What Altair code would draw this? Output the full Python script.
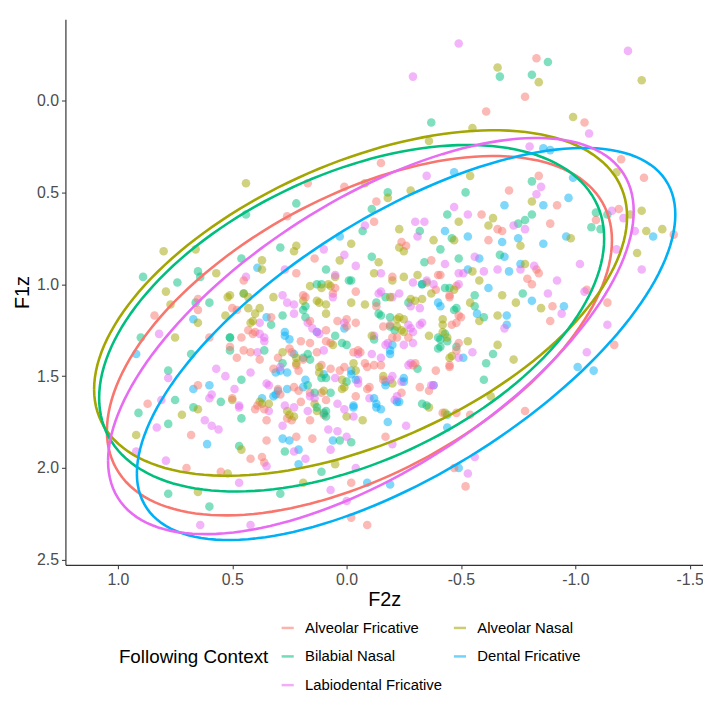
import altair as alt
import numpy as np
import pandas as pd

groups = ["Alveolar Fricative", "Alveolar Nasal", "Bilabial Nasal",
          "Dental Fricative", "Labiodental Fricative"]
colors = ["#F8766D", "#A3A500", "#00BF7D", "#00B0F6", "#E76BF3"]

# (F2z, F1z) points, per following context
alveolar_fricative = [
    (-0.61, 0.06), (-0.83, -0.23), (-0.78, -0.02), (-1.04, 0.12), (-1.20, 0.32), (-1.30, 0.42),
    (-0.84, 0.41), (-0.71, 0.49), (-0.92, 0.57), (-1.19, 0.59), (-1.09, 0.65), (-0.66, 0.70),
    (-0.68, 0.71), (-0.89, 0.67), (-1.43, 0.73), (-0.83, 0.92), (-0.84, 0.94), (-0.79, 0.97),
    (-0.81, 1.00), (-1.05, 1.03), (-0.90, 1.12), (-1.14, 1.10), (-0.89, 1.20), (-1.17, 1.33),
    (0.65, 1.08), (0.65, 1.14), (0.84, 1.17), (0.60, 1.29), (0.46, 1.29), (0.43, 1.25), (0.40, 1.26),
    (0.87, 1.65), (0.68, 1.82), (0.65, 1.55), (0.42, 1.95), (0.70, 2.00), (0.55, 2.02), (0.35, 1.85),
    (0.37, 1.94), (0.36, 1.97), (0.35, 1.74), (0.40, 1.68), (-0.36, 1.58), (-0.42, 1.70), (-0.54, 1.71),
    (-0.39, 1.47), (-0.45, 1.44), (-0.30, 1.43), (-0.47, 2.00), (-0.52, 2.10), (-0.09, 2.31),
    (-0.02, 2.27), (-0.02, 2.08), (-0.17, 1.83), (0.15, 1.84), (0.16, 1.74), (0.22, 1.83), (0.26, 1.73),
    (0.24, 1.74), (0.16, 1.59), (-0.04, 1.61), (-0.09, 1.57), (-0.24, 1.59), (-0.15, 1.44), (-0.09, 1.45),
    (-0.08, 1.43), (0.03, 1.47), (0.07, 1.46), (0.11, 1.44), (0.11, 1.59), (0.09, 1.63), (0.10, 1.71),
    (0.22, 1.44), (-0.78, 1.69), (-0.15, 0.34), (0.17, 0.45), (0.01, 0.47), (-0.13, 0.55), (0.26, 0.63),
    (-0.12, 0.66), (-0.59, 0.62), (-0.24, 0.77), (-0.26, 0.79), (-0.62, 0.76), (0.14, 0.86), (0.22, 0.94),
    (-0.37, 0.87), (-0.20, 0.96), (-0.41, 0.95), (-0.39, 1.03), (-0.48, 1.01), (-0.04, 1.04), (0.06, 1.05),
    (-0.13, 1.12), (0.18, 1.07), (-0.45, 1.07), (-0.49, 1.17), (-0.46, 1.22), (-0.16, 1.23), (0.04, 1.20),
    (0.00, 1.19), (-0.04, 1.21), (0.09, 1.25), (0.20, 1.31), (0.16, 1.32), (0.07, 1.32), (-0.49, 1.32),
    (0.13, 1.37), (0.30, 1.40), (-0.05, 1.36), (0.25, 1.35),
    (0.45, 0.98), (-0.40, 0.95), (0.19, 1.06), (0.05, 1.02), (-0.45, 1.06), (0.50, 1.13), (0.48, 1.14),
    (0.33, 1.18), (0.16, 1.20), (0.00, 1.23), (-0.19, 1.22), (-0.22, 1.29), (-0.48, 1.21), (-0.50, 1.18),
    (0.41, 1.27), (0.09, 1.31), (-0.03, 1.37), (-0.06, 1.37), (-0.20, 1.29), (-0.27, 1.29), (-0.29, 1.44),
    (-0.45, 1.45), (-0.48, 1.36), (0.48, 1.40), (0.51, 1.34), (0.45, 1.36), (0.42, 1.37), (0.38, 1.41),
    (0.24, 1.37), (0.32, 1.46), (0.21, 1.47), (0.19, 1.41), (0.01, 1.45), (-0.12, 1.44), (-0.10, 1.56),
    (-0.16, 1.52), (-0.48, 1.70), (-0.32, 1.56), (0.50, 1.62), (0.39, 1.66), (0.36, 1.68), (0.30, 1.57),
    (0.29, 1.60), (0.23, 1.56), (0.21, 1.58), (0.20, 1.64),
]
alveolar_nasal = [
    (-0.55, 0.15), (-0.36, 0.22), (-0.66, -0.18), (-0.84, -0.10), (-1.29, -0.11), (-0.99, 0.09),
    (-1.18, 0.39), (-0.81, 0.55), (-1.29, 0.60), (-1.24, 0.62), (-0.64, 0.64), (-1.31, 0.71),
    (-1.38, 0.70), (-0.76, 0.79), (-0.98, 0.75), (-1.27, 0.83), (-0.78, 0.89), (-0.68, 1.06),
    (-0.74, 1.10), (-0.85, 1.13), (-0.66, 1.17), (-0.66, 1.33), (-0.73, 1.41), (0.44, 0.45),
    (0.80, 0.82), (0.66, 0.81), (0.57, 0.94), (0.37, 0.87), (0.37, 0.92), (0.79, 1.04), (0.77, 1.11),
    (0.52, 1.07), (0.43, 1.07), (0.65, 1.21), (0.53, 1.17), (0.75, 1.29), (0.42, 1.21), (0.40, 1.16),
    (0.32, 1.07), (0.72, 1.71), (0.92, 1.82), (0.50, 1.63), (0.65, 1.68), (0.46, 1.90), (0.52, 2.03),
    (0.65, 2.13), (0.37, 1.65), (-0.07, 1.74), (-0.36, 1.67), (0.05, 1.98), (0.19, 2.08), (0.26, 1.69),
    (0.14, 1.65), (-0.20, 1.54), (-0.16, 1.50), (-0.03, 1.43), (-0.04, 1.47), (0.02, 1.52), (0.02, 1.57),
    (0.13, 1.69), (-0.46, 1.39), (-0.63, 1.61), (-0.08, 0.45), (-0.18, 0.53), (-0.28, 0.49), (-0.54, 0.41),
    (-0.49, 0.66), (-0.23, 0.70), (-0.02, 0.78), (0.22, 0.79), (0.23, 0.82), (-0.23, 0.80), (-0.25, 0.82),
    (-0.38, 0.76), (-0.47, 0.76), (-0.62, 0.68), (0.03, 0.87), (-0.14, 0.88), (-0.55, 0.93), (-0.58, 0.98),
    (-0.12, 0.94), (-0.20, 0.98), (-0.25, 0.96), (-0.31, 0.95), (-0.35, 0.99), (0.05, 0.96), (0.16, 1.01),
    (0.08, 1.00), (-0.08, 1.11), (-0.02, 1.10), (0.19, 1.09), (0.13, 1.09), (0.09, 1.11), (-0.37, 1.05),
    (-0.28, 1.08), (-0.33, 1.08), (-0.54, 1.10), (-0.42, 1.19), (-0.58, 1.20), (-0.22, 1.19), (-0.25, 1.19),
    (-0.24, 1.25), (-0.36, 1.28), (-0.42, 1.26), (-0.53, 1.31),
    (0.51, 1.06), (0.45, 1.05), (0.11, 1.02), (0.07, 1.01), (-0.19, 1.07), (-0.30, 1.09), (-0.47, 1.03),
    (0.43, 1.13), (0.41, 1.20), (0.38, 1.13), (0.12, 1.10), (0.09, 1.16), (-0.23, 1.18), (-0.22, 1.23),
    (-0.25, 1.26), (-0.44, 1.29), (-0.42, 1.22), (0.06, 1.33), (-0.11, 1.28), (-0.45, 1.40), (0.28, 1.37),
    (0.22, 1.40), (0.22, 1.43), (0.12, 1.45), (0.12, 1.48), (0.01, 1.56), (-0.43, 1.70), (0.38, 1.64),
    (0.34, 1.65), (0.25, 1.71), (0.23, 1.72), (0.10, 1.58), (0.00, 1.72),
]
bilabial_nasal = [
    (-0.37, 0.12), (-0.67, -0.13), (-0.88, -0.21), (-0.81, -0.14), (-0.81, 0.44), (-1.09, 0.61),
    (-1.14, 0.62), (-0.81, 0.62), (-0.78, 0.65), (-0.75, 0.67), (-1.07, 0.69), (-1.11, 0.70),
    (-0.67, 0.84), (-0.77, 1.05), (0.44, 0.62), (0.89, 0.96), (0.74, 0.99), (0.65, 0.93), (0.64, 0.96),
    (0.46, 0.86), (0.60, 1.10), (0.45, 1.05), (0.66, 1.10), (0.90, 1.29), (0.51, 1.29), (0.33, 1.22),
    (0.78, 1.47), (0.75, 1.63), (0.91, 1.70), (0.78, 1.76), (0.46, 1.52), (0.55, 1.64), (0.67, 1.67),
    (0.46, 1.73), (0.47, 1.88), (0.78, 2.14), (0.60, 2.21), (0.68, 1.38), (-0.33, 1.65), (-0.44, 1.71),
    (-0.60, 1.52), (-0.61, 1.43), (-0.31, 1.46), (0.11, 2.02), (0.29, 2.14), (-0.02, 1.86), (0.03, 1.85),
    (0.27, 1.91), (0.00, 1.53), (0.17, 1.55), (0.07, 1.59), (0.09, 1.69), (0.17, 1.38), (0.19, 1.40),
    (-0.64, 1.38), (-0.41, 1.34), (-0.18, 0.50), (-0.52, 0.50), (0.22, 0.56), (-0.11, 0.59), (-0.44, 0.62),
    (-0.32, 0.71), (-0.07, 0.71), (0.29, 0.80), (-0.41, 0.81), (-0.46, 0.75), (-0.11, 0.85), (0.09, 0.92),
    (-0.34, 0.88), (-0.49, 0.86), (-0.02, 0.98), (0.11, 1.00), (-0.45, 1.02), (-0.17, 1.07), (0.18, 1.12),
    (-0.56, 1.06), (-0.56, 1.12), (-0.60, 1.18), (-0.47, 1.14), (-0.15, 1.17), (-0.19, 1.23), (-0.21, 1.25),
    (0.05, 1.28), (0.28, 1.17), (-0.41, 1.30), (-0.44, 1.31), (-0.13, 1.10),
    (-0.01, 0.98), (-0.33, 1.00), (0.13, 1.00), (-0.27, 1.10), (-0.43, 1.02), (-0.48, 1.13), (0.19, 1.14),
    (0.18, 1.18), (-0.14, 1.16), (-0.19, 1.18), (-0.40, 1.29), (-0.43, 1.27), (0.02, 1.32), (0.00, 1.33),
    (-0.12, 1.30), (-0.40, 1.35), (-0.48, 1.34), (0.51, 1.29), (0.51, 1.36), (0.36, 1.36), (0.16, 1.41),
    (0.28, 1.43), (0.11, 1.51), (0.09, 1.51), (-0.35, 1.66), (0.13, 1.67), (0.10, 1.70), (0.09, 1.72),
    (0.14, 1.59),
]
dental_fricative = [
    (-0.86, 0.26), (-0.89, 0.27), (-0.99, 0.42), (-0.69, 0.57), (-0.86, 0.57), (-0.97, 0.53),
    (-1.34, 0.74), (-0.68, 0.77), (-0.75, 0.75), (-0.86, 0.78), (-0.96, 0.74), (-0.69, 0.85),
    (-0.71, 0.93), (-0.76, 0.89), (-0.81, 1.09), (-0.95, 1.12), (-0.70, 1.17), (-0.70, 1.22),
    (-1.01, 1.45), (-1.08, 1.47), (-0.51, 1.40), (0.39, 0.91), (0.67, 1.19), (0.35, 1.18), (0.67, 1.57),
    (0.60, 1.55), (0.61, 1.87), (0.31, 1.48), (0.37, 1.62), (0.32, 1.61), (0.92, 1.38), (0.26, 1.57),
    (0.30, 1.58), (-0.18, 1.75), (-0.38, 1.55), (-0.44, 1.78), (-0.49, 2.00), (-0.09, 2.08), (-0.19, 2.09),
    (0.21, 1.98), (0.06, 1.85), (0.25, 1.85), (0.21, 1.90), (-0.03, 1.67), (-0.13, 1.67), (-0.15, 1.68),
    (-0.23, 1.64), (-0.25, 1.53), (-0.17, 1.53), (-0.02, 1.47), (0.18, 1.52), (0.28, 1.84), (0.29, 1.47),
    (0.26, 1.48), (0.19, 1.56), (-0.19, 1.38), (-0.47, 0.39), (-0.43, 0.71), (-0.53, 0.74), (0.03, 0.74),
    (-0.58, 0.86), (-0.53, 0.92), (-0.62, 1.02), (-0.33, 1.00), (-0.40, 1.10), (-0.57, 1.16), (0.13, 1.26),
    (0.27, 1.26),
    (-0.41, 1.12), (0.01, 1.24), (0.27, 1.28), (0.25, 1.30), (-0.19, 1.36), (-0.20, 1.33), (0.23, 1.38),
    (0.10, 1.49), (-0.02, 1.49), (-0.04, 1.52), (-0.12, 1.62), (-0.17, 1.55), (-0.25, 1.51), (-0.22, 1.64),
    (-0.13, 1.65), (0.31, 1.60), (-0.03, 1.66),
]
labiodental_fricative = [
    (-0.49, -0.31), (-0.29, -0.13), (-1.23, -0.27), (-1.06, 0.18), (-0.80, 0.25), (-0.85, 0.47),
    (-0.83, 0.51), (-1.16, 0.60), (-1.21, 0.64), (-0.73, 0.68), (-0.78, 0.70), (-1.26, 0.71),
    (-1.18, 0.81), (-0.66, 0.92), (-0.76, 0.92), (-0.82, 0.90), (-1.02, 0.89), (-1.29, 0.92),
    (-0.92, 0.98), (-0.88, 1.05), (-1.04, 1.04), (-0.94, 1.16), (-0.69, 1.24), (-1.14, 1.22),
    (-1.05, 1.37), (0.44, 0.96), (0.82, 1.27), (0.38, 1.21), (0.36, 1.29), (0.78, 1.51), (0.81, 1.63),
    (0.83, 1.78), (0.57, 1.46), (0.53, 1.50), (0.59, 1.60), (0.60, 1.62), (0.49, 1.57), (0.47, 1.67),
    (0.62, 1.74), (0.59, 1.77), (0.56, 1.79), (0.79, 1.96), (0.92, 1.91), (0.47, 2.08), (0.64, 2.31),
    (0.42, 2.31), (0.35, 1.99), (0.34, 1.69), (0.35, 1.54), (-0.26, 1.77), (-0.20, 1.87), (-0.37, 1.55),
    (-0.28, 1.43), (-0.55, 1.37), (-0.56, 1.94), (-0.53, 2.03), (0.00, 2.18), (0.07, 2.12), (-0.04, 2.00),
    (0.18, 1.95), (0.07, 1.90), (0.00, 1.83), (0.08, 1.79), (0.04, 1.80), (0.23, 1.91), (-0.03, 1.72),
    (0.28, 1.77), (-0.10, 1.62), (-0.21, 1.63), (-0.20, 1.50), (-0.24, 1.53), (-0.15, 1.40), (-0.05, 1.52),
    (-0.35, 0.41), (-0.47, 0.58), (-0.53, 0.62), (-0.30, 0.66), (-0.34, 0.66), (-0.08, 0.68), (-0.31, 0.74),
    (0.10, 0.81), (0.01, 0.84), (-0.04, 0.90), (0.27, 0.92), (-0.43, 0.89), (-0.56, 0.85), (-0.51, 0.94),
    (-0.60, 0.93), (-0.15, 0.94), (-0.29, 0.99), (-0.15, 1.04), (-0.23, 1.05), (-0.20, 1.07), (0.28, 1.06),
    (0.26, 1.10), (0.23, 1.11), (0.06, 1.07), (-0.28, 1.12), (-0.32, 1.13), (-0.28, 1.24), (-0.32, 1.22),
    (0.17, 1.21), (-0.12, 1.28), (-0.18, 1.32), (-0.25, 1.33),
    (0.05, 0.95), (-0.35, 0.98), (-0.49, 0.94), (-0.49, 1.00), (-0.38, 1.00), (-0.14, 1.05), (0.23, 1.16),
    (0.01, 1.21), (0.15, 1.24), (-0.27, 1.22), (-0.29, 1.26), (-0.33, 1.21), (0.38, 1.27), (0.36, 1.31),
    (0.13, 1.26), (0.12, 1.27), (0.10, 1.36), (-0.05, 1.38), (-0.11, 1.38), (-0.17, 1.33), (-0.29, 1.32),
    (-0.27, 1.44), (-0.49, 1.40), (0.39, 1.37), (0.29, 1.45), (0.42, 1.48), (0.05, 1.51), (-0.05, 1.54),
    (-0.19, 1.52), (-0.22, 1.61), (-0.38, 1.55), (0.47, 1.66), (0.34, 1.55), (0.27, 1.66), (0.23, 1.67),
    (0.16, 1.61), (0.14, 1.62), (0.17, 1.69), (0.04, 1.65), (0.01, 1.68),
]

# 95% ellipse of each group: centre, half-extents, correlation
ell_cx = [-0.056, -0.061, -0.022, -0.260, -0.106]
ell_cy = [1.280, 1.102, 1.185, 1.325, 1.282]
ell_rx = [1.104, 1.165, 1.104, 1.177, 1.149]
ell_ry = [0.978, 0.940, 0.943, 1.067, 1.078]
ell_rho = [0.53, 0.50, 0.46, 0.66, 0.63]

x_ticks = [1.0, 0.5, 0.0, -0.5, -1.0, -1.5]
y_ticks = [0.0, 0.5, 1.0, 1.5, 2.0, 2.5]

# interleave the groups so no single colour is painted on top of all others
series = [alveolar_fricative, alveolar_nasal, bilabial_nasal, dental_fricative, labiodental_fricative]
rows = []
for i in range(max(len(s) for s in series)):
    for g, s in zip(groups, series):
        if i < len(s):
            rows.append({"F2z": s[i][0], "F1z": s[i][1], "context": g})
points = pd.DataFrame(rows)

t = np.linspace(0, 2 * np.pi, 161)
erows = []
for g, cx, cy, rx, ry, rho in zip(groups, ell_cx, ell_cy, ell_rx, ell_ry, ell_rho):
    xs = cx + rx * np.cos(t)
    ys = cy + ry * (rho * np.cos(t) + np.sqrt(1 - rho ** 2) * np.sin(t))
    for k, (a, b) in enumerate(zip(xs, ys)):
        erows.append({"F2z": float(a), "F1z": float(b), "context": g, "i": k})
ellipses = pd.DataFrame(erows)

FONT = "Liberation Sans"
xscale = alt.Scale(domain=[-1.558, 1.2294], reverse=True, nice=False, zero=False)
yscale = alt.Scale(domain=[-0.4418, 2.527], reverse=True, nice=False, zero=False)
cscale = alt.Scale(domain=groups, range=colors)

lbl = "replace(format(datum.value, '.1f'), '\u2212', '-')"
axis_common = dict(grid=False, tickSize=4, tickWidth=1, tickColor="#333333",
                   domainColor="#333333", domainWidth=1.2, labelColor="#4D4D4D",
                   labelFontSize=16, labelFont=FONT, titleFont=FONT, titleFontSize=20,
                   titleFontWeight="normal", titleColor="black", labelPadding=3,
                   labelFlush=False, labelExpr=lbl)
xaxis = alt.Axis(values=x_ticks, title="F2z", titlePadding=2, **axis_common)
yaxis = alt.Axis(values=y_ticks, title="F1z", titlePadding=4, **axis_common)

pts = alt.Chart(points).mark_circle(size=75, opacity=0.5, clip=True).encode(
    x=alt.X("F2z:Q", scale=xscale, axis=xaxis),
    y=alt.Y("F1z:Q", scale=yscale, axis=yaxis),
    color=alt.Color("context:N", scale=cscale, legend=None),
)

legend = alt.Legend(
    title="Following Context", orient="none", legendX=54, legendY=607, columns=2,
    direction="horizontal",
    titleOrient="left", titleAnchor="middle", titleBaseline="middle",
    titleFontSize=19, titleFontWeight="normal", titleColor="black", titleFont=FONT,
    titlePadding=11, labelFont=FONT, labelFontSize=15, labelColor="black",
    labelLimit=300, labelOffset=10, symbolType="stroke", symbolStrokeWidth=2.5,
    symbolSize=150, symbolOpacity=0.55, rowPadding=13, columnPadding=6,
)

ell = alt.Chart(ellipses).mark_line(strokeWidth=2.6, clip=True).encode(
    x=alt.X("F2z:Q", scale=xscale, axis=xaxis),
    y=alt.Y("F1z:Q", scale=yscale, axis=yaxis),
    color=alt.Color("context:N", scale=cscale, legend=legend),
    order=alt.Order("i:Q"),
    detail="context:N",
)

chart = alt.layer(pts, ell).resolve_legend(color="independent").properties(
    width=644, height=551,
    padding={"left": 58, "top": 8, "right": 0, "bottom": 125},
    autosize=alt.AutoSizeParams(type="none"),
).configure_view(stroke=None)

chart.save("out.html", embed_options={"renderer": "svg", "actions": False})
